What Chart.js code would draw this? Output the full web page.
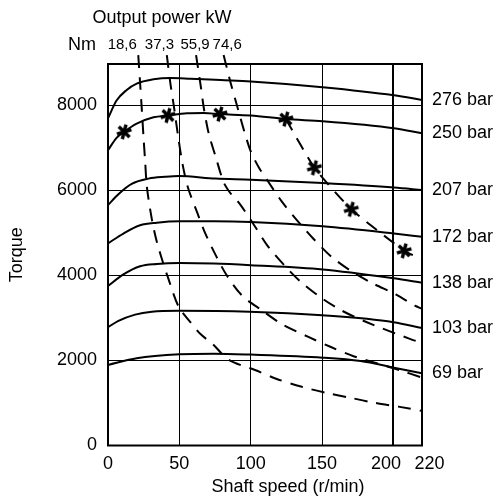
<!DOCTYPE html>
<html>
<head>
<meta charset="utf-8">
<script src="https://cdn.jsdelivr.net/npm/chart.js@4.4.0/dist/chart.umd.min.js"></script>
<style>
  html, body { margin: 0; padding: 0; background: #fff; }
</style>
</head>
<body>
<canvas id="torque" width="497" height="500"></canvas>
<script>
// axis ticks
const speedTicks = [0, 50, 100, 150, 200, 220];
const torqueTicks = [0, 2000, 4000, 6000, 8000];

// torque curves per pressure (speed r/min, torque)
const pressureLabels = ["276 bar", "250 bar", "207 bar", "172 bar", "138 bar", "103 bar", "69 bar"];

const speed276 = [0, 6, 13.1, 20.1, 31.9, 43.7, 57.7, 78.9, 100, 150.4, 200.4, 220];
const torque276 = [7692, 8110, 8360, 8510, 8610, 8642, 8625, 8592, 8560, 8425, 8235, 8125];

const speed250 = [0, 6, 11.3, 20.1, 31.9, 42, 55.4, 67.1, 78.4, 100, 124.6, 150.4, 200.4, 220];
const torque250 = [6942, 7235, 7375, 7567, 7717, 7760, 7810, 7817, 7792, 7760, 7675, 7625, 7460, 7342];

const speed207 = [0, 7.3, 16.6, 28.4, 40, 49.5, 75.4, 100, 150.4, 200.4, 220];
const torque207 = [5653, 5908, 6150, 6275, 6317, 6335, 6275, 6250, 6170, 6065, 6005];

const speed172 = [0, 10.8, 22.5, 34.2, 50.2, 74.2, 100, 150.4, 200.4, 220];
const torque172 = [4753, 4984, 5178, 5238, 5270, 5270, 5254, 5154, 4984, 4907];

const speed138 = [0, 10.8, 22.5, 34.2, 50.2, 74.2, 100, 150.4, 200.4, 220];
const torque138 = [3751, 4023, 4216, 4270, 4293, 4279, 4240, 4140, 3930, 3828];

const speed103 = [0, 7.3, 19, 30.7, 49.5, 99, 150, 200, 220];
const torque103 = [2781, 2930, 3077, 3147, 3170, 3147, 3061, 2900, 2760];

const speed69 = [0, 20.1, 50.2, 74.2, 100, 150.4, 177, 200.4, 220];
const torque69 = [1894, 2052, 2144, 2158, 2137, 2066, 1985, 1830, 1700];

// constant output power lines (dashed)
const powerLabels = ["18,6", "37,3", "55,9", "74,6"];

const speedP1 = [21.2, 22.5, 23.7, 24.9, 26.1, 27.2, 30.7, 34.2, 38.9, 41.5, 49.5, 57.7, 64.8, 73.5, 84.7, 103, 118.7, 135.8, 153.4, 170, 186.8, 204.4, 220];
const torqueP1 = [9180, 8517, 7892, 7242, 6642, 6092, 5323, 4792, 4261, 4000, 3263, 2900, 2620, 2379, 2012, 1776, 1559, 1380, 1232, 1121, 1003, 908, 814];

const speedP2 = [41.2, 43.7, 46.3, 49.3, 52.3, 56, 62.4, 68, 75.9, 83.5, 94.1, 108.2, 122.3, 140.4, 155.8, 172, 204.4, 220];
const torqueP2 = [9180, 8517, 7942, 7230, 6605, 6067, 5485, 5000, 4446, 3984, 3519, 3170, 2844, 2553, 2321, 2100, 1771, 1594];

const speedP3 = [61.7, 64.8, 67.1, 70.6, 75.4, 81.2, 86.5, 92.3, 102.3, 111.7, 123.5, 135.2, 149.9, 163.9, 181, 211.5, 220];
const torqueP3 = [9180, 8492, 7942, 7330, 6792, 6180, 5900, 5681, 5185, 4700, 4238, 3844, 3460, 3170, 2903, 2507, 2414];

const speedP4 = [81, 85.9, 90.6, 95.3, 100, 105.8, 111.5, 121.7, 132.3, 143.9, 156.3, 171.5, 185.6, 201.6, 215, 220];
const torqueP4 = [9180, 8530, 7967, 7405, 6917, 6530, 6242, 5739, 5300, 4861, 4446, 4076, 3809, 3553, 3286, 3216];

// max power line through the marked points
const speedMax = [124.6, 144.6, 170.4, 207.5, 220];
const torqueMax = [7675, 6530, 5554, 4577, 4380];

// star markers
const starSpeed = [11.3, 42, 78.4, 124.6, 144.6, 170.4, 207.5];
const starTorque = [7375, 7760, 7792, 7675, 6530, 5554, 4577];

const FONT = "'Liberation Sans', Arial, sans-serif";

function pts(xs, ys) {
    return xs.map((x, i) => ({x: x, y: ys[i]}));
}

function solid(label, xs, ys) {
    return {
        label: label,
        data: pts(xs, ys),
        borderColor: "#000",
        borderWidth: 2,
        pointRadius: 0,
        cubicInterpolationMode: "monotone",
        fill: false
    };
}

function dashed(label, xs, ys) {
    return {
        label: label,
        data: pts(xs, ys),
        borderColor: "#000",
        borderWidth: 2,
        borderDash: [13, 9],
        pointRadius: 0,
        tension: 0.3,
        clip: false,
        fill: false
    };
}

// asterisk marker
function makeStar() {
    const c = document.createElement("canvas");
    c.width = 18;
    c.height = 18;
    const g = c.getContext("2d");
    g.strokeStyle = "#000";
    g.lineWidth = 3.4;
    const r = 7.5;
    for (let i = 0; i < 3; i++) {
        const a = Math.PI / 2 + 0.25 + i * Math.PI / 3;
        g.beginPath();
        g.moveTo(9 - r * Math.cos(a), 9 - r * Math.sin(a));
        g.lineTo(9 + r * Math.cos(a), 9 + r * Math.sin(a));
        g.stroke();
    }
    return c;
}

// anchors (data units) for the power labels above the plot
const powerLabelSpeed = [10, 36, 61, 83.5];

const extraText = {
    id: "extraText",
    afterDraw(chart) {
        const {ctx, chartArea: a, scales: {x, y}} = chart;
        ctx.save();
        // plot frame
        ctx.strokeStyle = "#000";
        ctx.lineWidth = 2;
        ctx.strokeRect(a.left, a.top, a.right - a.left, a.bottom - a.top);

        ctx.fillStyle = "#000";
        ctx.textBaseline = "middle";
        ctx.font = "18px " + FONT;
        ctx.textAlign = "center";
        ctx.fillText("Output power kW", 162, 18);
        ctx.fillText("Nm", 82, 45);
        ctx.fillText("Shaft speed (r/min)", 288, 487);

        ctx.font = "15px " + FONT;
        powerLabels.forEach((t, i) => {
            ctx.fillText(t, x.getPixelForValue(powerLabelSpeed[i]), 45);
        });

        ctx.font = "18px " + FONT;
        ctx.textAlign = "left";
        const ends = [torque276, torque250, torque207, torque172, torque138, torque103, torque69];
        pressureLabels.forEach((t, i) => {
            const v = ends[i][ends[i].length - 1];
            ctx.fillText(t, a.right + 10, y.getPixelForValue(v));
        });
        ctx.restore();
    }
};

const data = {
    datasets: [
        solid(pressureLabels[0], speed276, torque276),
        solid(pressureLabels[1], speed250, torque250),
        solid(pressureLabels[2], speed207, torque207),
        solid(pressureLabels[3], speed172, torque172),
        solid(pressureLabels[4], speed138, torque138),
        solid(pressureLabels[5], speed103, torque103),
        solid(pressureLabels[6], speed69, torque69),
        dashed(powerLabels[0], speedP1, torqueP1),
        dashed(powerLabels[1], speedP2, torqueP2),
        dashed(powerLabels[2], speedP3, torqueP3),
        dashed(powerLabels[3], speedP4, torqueP4),
        Object.assign(dashed("max", speedMax, torqueMax), {tension: 0.15}),
        {
            label: "points",
            type: "scatter",
            data: pts(starSpeed, starTorque),
            pointStyle: makeStar(),
            pointRadius: 9,
            showLine: false
        }
    ]
};

const config = {
    type: "line",
    data: data,
    plugins: [extraText],
    options: {
        responsive: false,
        animation: false,
        layout: {
            padding: {top: 64, right: 75, left: 0, bottom: 0}
        },
        plugins: {
            legend: {display: false},
            tooltip: {enabled: false}
        },
        scales: {
            x: {
                type: "linear",
                min: 0,
                max: 220,
                afterBuildTicks: (s) => { s.ticks = speedTicks.map(v => ({value: v})); },
                afterFit: (s) => { s.height = 54.5; },
                ticks: {
                    autoSkip: false,
                    maxRotation: 0,
                    padding: 8,
                    color: "#000",
                    font: {family: FONT, size: 18},
                    // nudge the crowded last two labels apart
                    callback: (v) => (v === 200 ? "200   " : v === 220 ? "   220" : String(v))
                },
                grid: {
                    color: "#000",
                    lineWidth: (c) => (c.tick && c.tick.value === 200 ? 2 : 1),
                    drawTicks: false
                },
                border: {display: false}
            },
            y: {
                type: "linear",
                min: 0,
                max: 8970,
                afterBuildTicks: (s) => { s.ticks = torqueTicks.map(v => ({value: v})); },
                afterFit: (s) => { s.width = 108; },
                ticks: {
                    padding: 11,
                    color: "#000",
                    font: {family: FONT, size: 18},
                    callback: (v) => String(v)
                },
                grid: {
                    color: "#000",
                    lineWidth: 1,
                    drawTicks: false
                },
                border: {display: false},
                title: {
                    display: true,
                    text: "Torque",
                    color: "#000",
                    font: {family: FONT, size: 18},
                    padding: {top: 6, bottom: 0}
                }
            }
        }
    }
};

const torqueChart = new Chart(document.getElementById("torque"), config);
</script>
</body>
</html>
